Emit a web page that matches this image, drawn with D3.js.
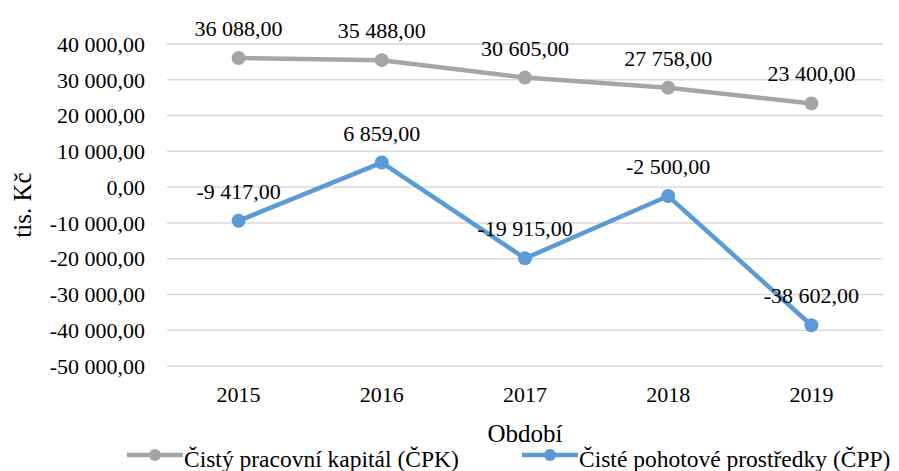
<!DOCTYPE html>
<html>
<head>
<meta charset="utf-8">
<script src="https://cdn.jsdelivr.net/npm/d3@7"></script>
<style>
  body { margin: 0; background: #fff; }
</style>
</head>
<body>
<div id="chart"></div>
<script>
// Chart values
var years = ["2015", "2016", "2017", "2018", "2019"];
var cpkValues = [36088, 35488, 30605, 27758, 23400];
var cppValues = [-9417, 6859, -19915, -2500, -38602];
var yTicks = [40000, 30000, 20000, 10000, 0, -10000, -20000, -30000, -40000, -50000];
var seriesNames = ["Čistý pracovní kapitál (ČPK)", "Čisté pohotové prostředky (ČPP)"];
var seriesColors = ["#A5A5A5", "#5B9BD5"];

var serif = "Liberation Serif";

var svgWidth = 899;
var svgHeight = 471;

var margin = { top: 44, right: 16, bottom: 105, left: 167 };
var chartWidth = svgWidth - margin.left - margin.right;
var chartHeight = svgHeight - margin.top - margin.bottom;

// Czech number format: "36 088,00"
var czech = d3.formatLocale({ decimal: ",", thousands: " ", grouping: [3], currency: ["", ""], minus: "-" });
var fmt = czech.format(",.2f");

var svg = d3.select("#chart")
  .append("svg")
  .attr("width", svgWidth)
  .attr("height", svgHeight)
  .attr("font-family", serif);

var chartGroup = svg.append("g")
  .attr("transform", `translate(${margin.left}, ${margin.top})`);

// scales
var xScale = d3.scaleBand()
  .domain(years)
  .range([0, chartWidth]);

var yScale = d3.scaleLinear()
  .domain([-50000, 40000])
  .range([chartHeight, 0]);

// gridlines
chartGroup.append("g")
  .selectAll("line")
  .data(yTicks)
  .enter()
  .append("line")
  .attr("x1", 0)
  .attr("x2", chartWidth)
  .attr("y1", d => yScale(d))
  .attr("y2", d => yScale(d))
  .attr("stroke", "#D9D9D9")
  .attr("stroke-width", 1.5);

// y axis labels
var yAxis = d3.axisLeft(yScale).tickValues(yTicks).tickFormat(fmt).tickSize(0).tickPadding(22);
var yG = chartGroup.append("g").call(yAxis)
  .attr("font-family", serif)
  .attr("font-size", 22);
yG.select(".domain").remove();
yG.selectAll("text")
  .attr("fill", "#000")
  .attr("dy", "0.33em");

// x axis labels
var xAxis = d3.axisBottom(xScale).tickSize(0).tickPadding(20);
var xG = chartGroup.append("g")
  .attr("transform", `translate(0, ${chartHeight})`)
  .call(xAxis)
  .attr("font-family", serif)
  .attr("font-size", 22);
xG.select(".domain").remove();
xG.selectAll("text")
  .attr("fill", "#000");

// axis titles
svg.append("text")
  .attr("transform", `translate(31, ${margin.top + chartHeight / 2}) rotate(-90)`)
  .attr("text-anchor", "middle")
  .attr("font-family", serif)
  .attr("font-size", 25)
  .text("tis. Kč");

svg.append("text")
  .attr("x", margin.left + chartWidth / 2)
  .attr("y", 442)
  .attr("text-anchor", "middle")
  .attr("font-family", serif)
  .attr("font-size", 25)
  .text("Období");

// lines + points
var series = [cpkValues, cppValues];
var line = d3.line()
  .x((d, i) => xScale(years[i]) + xScale.bandwidth() / 2)
  .y(d => yScale(d));

series.forEach(function(values, s) {
  chartGroup.append("path")
    .datum(values)
    .attr("fill", "none")
    .attr("stroke", seriesColors[s])
    .attr("stroke-width", 4.5)
    .attr("stroke-linejoin", "round")
    .attr("d", line);

  chartGroup.selectAll(".pt" + s)
    .data(values)
    .enter()
    .append("circle")
    .attr("cx", (d, i) => xScale(years[i]) + xScale.bandwidth() / 2)
    .attr("cy", d => yScale(d))
    .attr("r", 7)
    .attr("fill", seriesColors[s]);

  chartGroup.selectAll(".lbl" + s)
    .data(values)
    .enter()
    .append("text")
    .attr("x", (d, i) => xScale(years[i]) + xScale.bandwidth() / 2)
    .attr("y", d => yScale(d) - 22)
    .attr("text-anchor", "middle")
    .attr("font-family", serif)
    .attr("font-size", 22)
    .text(d => fmt(d));
});

// legend
var legendX = [127, 522];
var legend = svg.append("g");
seriesNames.forEach(function(name, s) {
  var g = legend.append("g").attr("transform", `translate(${legendX[s]}, 455)`);
  g.append("line")
    .attr("x1", 0).attr("x2", 56)
    .attr("y1", 0).attr("y2", 0)
    .attr("stroke", seriesColors[s])
    .attr("stroke-width", 4.5);
  g.append("circle")
    .attr("cx", 28).attr("cy", 0).attr("r", 6)
    .attr("fill", seriesColors[s]);
  g.append("text")
    .attr("x", 57)
    .attr("y", 12)
    .attr("font-family", serif)
    .attr("font-size", 23.5)
    .text(name);
});
</script>
</body>
</html>
